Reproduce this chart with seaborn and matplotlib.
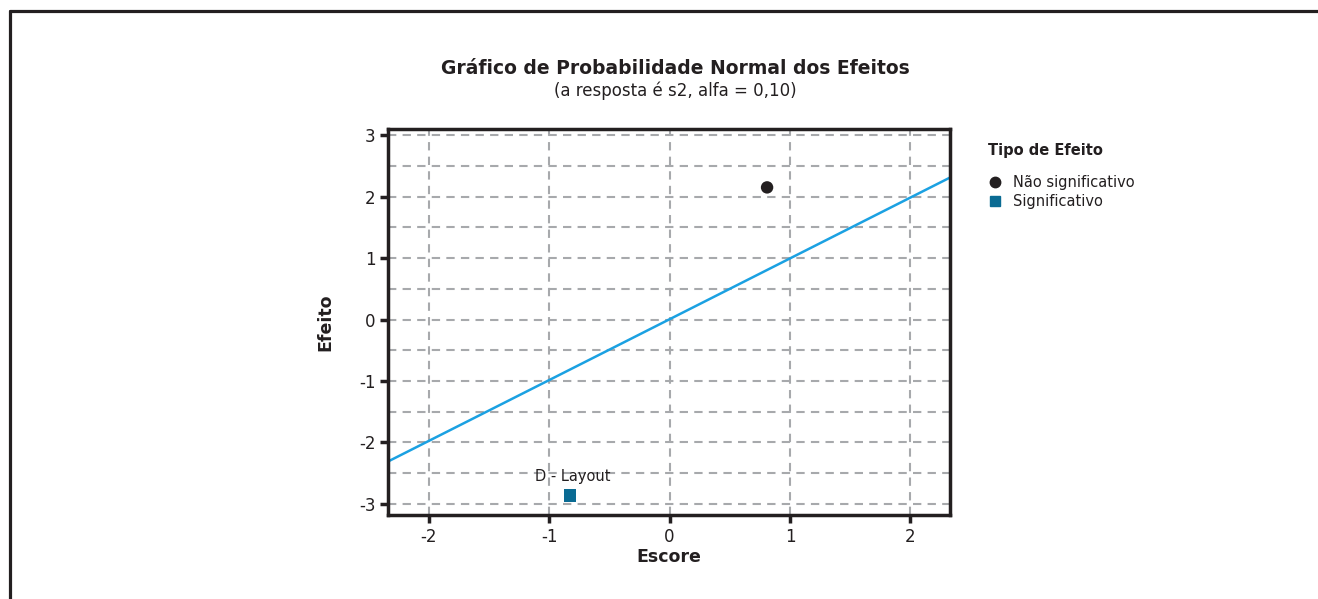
import numpy as np
import pandas as pd
import matplotlib
matplotlib.use('Agg')
import matplotlib.pyplot as plt
from matplotlib.lines import Line2D
import seaborn as sns

# ------------------------------------------------------------
# DATA
# ------------------------------------------------------------
effect_names = ['A', 'D - Layout']
effect_types = ['Não significativo', 'Significativo']
effect_score = [0.81, -0.83]
effect_value = [2.15, -2.86]

# fitted normal line (endpoints)
line_score = [-2.33, 2.33]
line_value = [-2.30, 2.31]

x_ticks = [-2, -1, 0, 1, 2]
y_ticks = [-3, -2, -1, 0, 1, 2, 3]
y_grid = [-3, -2.5, -2, -1.5, -1, -0.5, 0, 0.5, 1, 1.5, 2, 2.5, 3]

effects = pd.DataFrame({'Escore': effect_score, 'Efeito': effect_value,
                        'Tipo de Efeito': effect_types, 'nome': effect_names})
fit = pd.DataFrame({'Escore': line_score, 'Efeito': line_value})

# ------------------------------------------------------------
# PLOT
# ------------------------------------------------------------
sns.set_theme(style='white')
plt.rcParams['font.family'] = ['DejaVu Sans']

dark = '#231f20'
fig = plt.figure(figsize=(13.18, 5.99), dpi=100)
ax = fig.add_axes([388 / 1318, 1 - 515 / 599, (950 - 388) / 1318, (515 - 129) / 599])

# grid
for gx in x_ticks:
    ax.axvline(gx, color='#a7a9ac', lw=1.5, ls=(0, (4, 3)), zorder=0)
for gy in y_grid:
    ax.axhline(gy, color='#a7a9ac', lw=1.5, ls=(0, (4, 3)), zorder=0)

sns.lineplot(data=fit, x='Escore', y='Efeito', color='#1ba1e2', lw=1.8, ax=ax, zorder=2)

palette = {'Não significativo': dark, 'Significativo': '#0a6b93'}
markers = {'Não significativo': 'o', 'Significativo': 's'}
sns.scatterplot(data=effects, x='Escore', y='Efeito', hue='Tipo de Efeito', style='Tipo de Efeito',
                palette=palette, markers=markers, s=80, edgecolor='none', ax=ax, zorder=3,
                legend=False)

sig = effects[effects['Tipo de Efeito'] == 'Significativo']
for _, r in sig.iterrows():
    ax.annotate(r['nome'], (r['Escore'], r['Efeito']), xytext=(2, 8), textcoords='offset points',
                ha='center', va='bottom', fontsize=10.5, color=dark)

ax.set_xlim(-2.34, 2.33)
ax.set_ylim(-3.18, 3.10)
ax.set_xticks(x_ticks)
ax.set_yticks(y_ticks)
ax.set_xticklabels([str(t) for t in x_ticks])
ax.set_yticklabels([str(t) for t in y_ticks])
ax.tick_params(axis='both', which='major', bottom=True, left=True, direction='out', length=6,
               width=2.5, color=dark, labelsize=12, labelcolor=dark, pad=3)
for sp in ax.spines.values():
    sp.set_color(dark)
    sp.set_linewidth(2.5)

ax.set_xlabel('Escore', fontsize=12.5, fontweight='bold', color=dark, labelpad=2)
ax.set_ylabel('Efeito', fontsize=12.5, fontweight='bold', color=dark, labelpad=18)

fig.text(675 / 1318, 1 - 69 / 599, 'Gráfico de Probabilidade Normal dos Efeitos',
         ha='center', va='center', fontsize=13.5, fontweight='bold', color=dark)
fig.text(675 / 1318, 1 - 91 / 599, '(a resposta é s2, alfa = 0,10)',
         ha='center', va='center', fontsize=12, color=dark)

# legend
fig.text(988 / 1318, 1 - 150 / 599, 'Tipo de Efeito', ha='left', va='center',
         fontsize=10.5, fontweight='bold', color=dark)
handles = [Line2D([], [], marker=markers[t], color=palette[t], ls='none', markersize=7.5)
           for t in effect_types]
leg = fig.legend(handles, effect_types, loc='upper left',
                 bbox_to_anchor=(988 / 1318, 1 - 175 / 599), frameon=False, fontsize=10.5,
                 handletextpad=0.8, handlelength=0.9, labelspacing=0.3, borderpad=0,
                 borderaxespad=0)
for t in leg.get_texts():
    t.set_color(dark)

# outer frame (top and left edges)
fig.add_artist(Line2D([9.5 / 1318, 1], [1 - 11 / 599, 1 - 11 / 599], color=dark, lw=2.3,
                      transform=fig.transFigure))
fig.add_artist(Line2D([9.5 / 1318, 9.5 / 1318], [0, 1 - 11 / 599], color=dark, lw=2.3,
                      transform=fig.transFigure))

fig.savefig('out.png', dpi=100)
